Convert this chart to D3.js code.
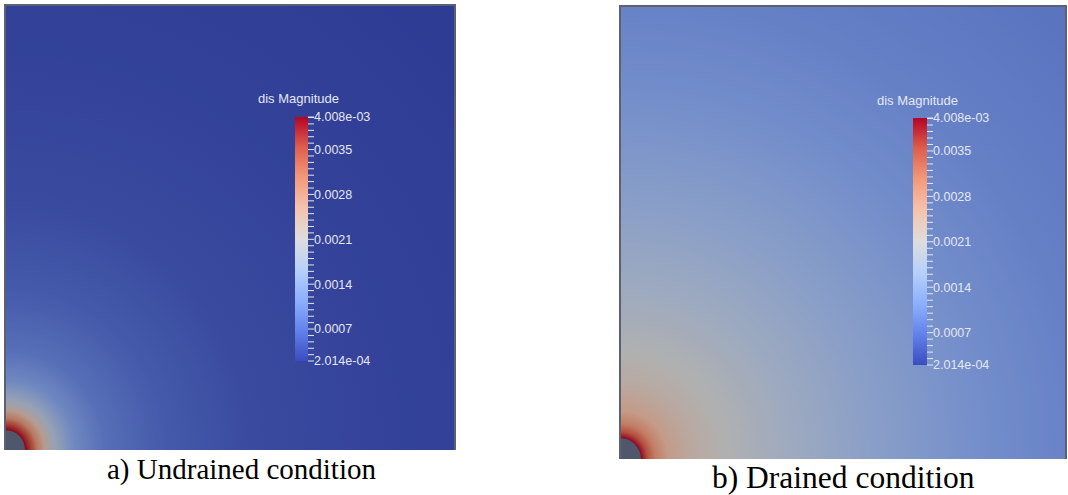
<!DOCTYPE html>
<html lang="en">
<head>
<meta charset="UTF-8">
<script src="https://cdnjs.cloudflare.com/ajax/libs/d3/7.8.5/d3.min.js"></script>
<title>dis Magnitude - undrained vs drained</title>
<style>
  body { margin: 0; background: #fff; }
  svg { display: block; }
</style>
</head>
<body>
<svg width="1068" height="495"></svg>
<script>
    // colour legend range (m)
    var disMin = 2.014e-4;
    var disMax = 4.008e-3;
    var endLabels = ["2.014e-04", "4.008e-03"];
    var majorTicks = [0.0007, 0.0014, 0.0021, 0.0028, 0.0035];
    var minorTicks = d3.range(3, 41).map(i => i / 10000);

    // radial profiles from the hole edge, distance in hole radii (r/a)
    var undrainedR = [1, 1.3, 1.6, 2, 2.5, 3.5, 5, 8, 12.5, 20, 32];
    var undrainedDis = [0.0040, 0.0036, 0.0030, 0.0024, 0.0018, 0.0012, 0.00085, 0.00058, 0.0004, 0.0003, 0.00022];
    var drainedR = [1, 1.3, 1.7, 2.3, 3.5, 5, 8, 12, 17, 22, 31];
    var drainedDis = [0.0040, 0.0035, 0.0030, 0.0026, 0.0023, 0.0021, 0.0018, 0.0015, 0.0012, 0.0010, 0.0008];

    var captions = ["a) Undrained condition", "b) Drained condition"];

    // paraview cool to warm
    var coolWarm = ["#3b4cc0", "#6282ea", "#8db0fe", "#b8d0f9", "#dddddd", "#f5c4ad", "#f49a7b", "#de604d", "#b40426"];
    var t = d3.scaleLinear().domain([disMin, disMax]).range([0, 1]);
    var color = d3.scaleLinear()
        .domain(d3.range(coolWarm.length).map(i => i / (coolWarm.length - 1)))
        .range(coolWarm)
        .interpolate(d3.interpolateLab);
    var disColor = v => color(t(v));

    var svg = d3.select("svg");
    var defs = svg.append("defs");

    var panels = [
        { x: 5, y: 5, w: 450, h: 445, hole: 20, r: undrainedR, dis: undrainedDis, shade: 0.24,
          bar: { x: 295, w: 13, y0: 117, y1: 361 }, title: [258, 103], cap: [107, 479, 29] },
        { x: 620, y: 6, w: 446, h: 453, hole: 21, r: drainedR, dis: drainedDis, shade: 0.2,
          bar: { x: 913, w: 14, y0: 118, y1: 365 }, title: [877, 105], cap: [712, 488, 31.5] }
    ];

    panels.forEach((p, i) => {
        var cx = p.x, cy = p.y + p.h;
        var rMax = d3.max(p.r);
        var rad = d3.scaleLinear().domain([0, rMax]).range([0, rMax * p.hole]);

        var clip = defs.append("clipPath").attr("id", "clip" + i);
        clip.append("rect").attr("x", p.x).attr("y", p.y).attr("width", p.w).attr("height", p.h);

        var grad = defs.append("radialGradient")
            .attr("id", "field" + i)
            .attr("gradientUnits", "userSpaceOnUse")
            .attr("cx", cx).attr("cy", cy).attr("fx", cx).attr("fy", cy)
            .attr("r", rad(rMax));
        grad.selectAll("stop")
            .data(p.r)
            .enter()
            .append("stop")
            .attr("offset", d => d / rMax)
            .attr("stop-color", (d, j) => disColor(p.dis[j]));

        var g = svg.append("g").attr("clip-path", "url(#clip" + i + ")");
        g.append("rect")
            .attr("x", p.x).attr("y", p.y).attr("width", p.w).attr("height", p.h)
            .attr("fill", "url(#field" + i + ")");
        // surface lighting makes the field darker than the legend
        g.append("rect")
            .attr("x", p.x).attr("y", p.y).attr("width", p.w).attr("height", p.h)
            .attr("fill", "#000").attr("opacity", p.shade);
        // the hole
        g.append("circle")
            .attr("cx", cx).attr("cy", cy).attr("r", rad(1))
            .attr("fill", "#50566c");

        // frame
        svg.append("path")
            .attr("d", "M" + p.x + "," + (p.y + p.h) + "V" + p.y + "H" + (p.x + p.w) + "V" + (p.y + p.h))
            .attr("fill", "none").attr("stroke", "#5d6070").attr("stroke-width", 2);

        // colour legend
        var b = p.bar;
        var y = d3.scaleLinear().domain([disMin, disMax]).range([b.y1, b.y0]);
        var lg = defs.append("linearGradient")
            .attr("id", "bar" + i)
            .attr("x1", 0).attr("y1", 1).attr("x2", 0).attr("y2", 0);
        lg.selectAll("stop")
            .data(color.domain())
            .enter()
            .append("stop")
            .attr("offset", d => d)
            .attr("stop-color", d => color(d));

        svg.append("rect")
            .attr("x", b.x).attr("y", b.y0).attr("width", b.w).attr("height", b.y1 - b.y0)
            .attr("fill", "url(#bar" + i + ")");

        var tickCol = "#e4e7f2";
        svg.append("g").selectAll("line")
            .data(minorTicks.concat([disMin, disMax]))
            .enter()
            .append("line")
            .attr("x1", b.x + b.w).attr("x2", b.x + b.w + 6)
            .attr("y1", d => y(d)).attr("y2", d => y(d))
            .attr("stroke", tickCol).attr("stroke-width", 1);

        var labels = majorTicks.map(v => [v, d3.format(".4f")(v)])
            .concat([[disMin, endLabels[0]], [disMax, endLabels[1]]]);
        svg.append("g").selectAll("text")
            .data(labels)
            .enter()
            .append("text")
            .attr("x", b.x + b.w + 6)
            .attr("y", d => y(d[0]))
            .attr("dy", "0.35em")
            .attr("fill", tickCol)
            .style("font-family", "'Liberation Sans', Arial, sans-serif")
            .style("font-size", "12.5px")
            .text(d => d[1]);

        svg.append("text")
            .attr("x", p.title[0]).attr("y", p.title[1])
            .attr("fill", tickCol)
            .style("font-family", "'Liberation Sans', Arial, sans-serif")
            .style("font-size", "13px")
            .text("dis Magnitude");

        svg.append("text")
            .attr("x", p.cap[0]).attr("y", p.cap[1])
            .attr("fill", "#000")
            .style("font-family", "'Liberation Serif', 'Times New Roman', serif")
            .style("font-size", p.cap[2] + "px")
            .text(captions[i]);
    });
</script>
</body>
</html>
